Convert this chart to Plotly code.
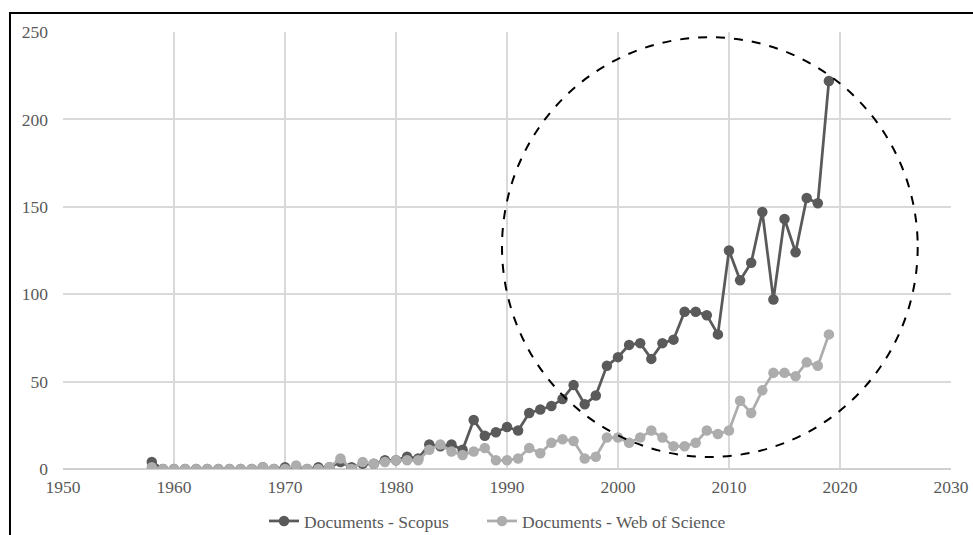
import plotly.graph_objects as go

years = list(range(1958, 2020))

scopus = [4, 0, 0, 0, 0, 0, 0, 0, 0, 0, 1, 0,          # 1958-1969
          1, 0, 0, 1, 1, 4, 1, 3, 3, 5,                 # 1970-1979
          5, 7, 6, 14, 13, 14, 11, 28, 19, 21,          # 1980-1989
          24, 22, 32, 34, 36, 40, 48, 37, 42, 59,       # 1990-1999
          64, 71, 72, 63, 72, 74, 90, 90, 88, 77,       # 2000-2009
          125, 108, 118, 147, 97, 143, 124, 155, 152, 222]  # 2010-2019

wos = [1, 0, 0, 0, 0, 0, 0, 0, 0, 0, 1, 0,             # 1958-1969
       0, 2, 0, 0, 1, 6, 0, 4, 3, 4,                    # 1970-1979
       5, 5, 5, 11, 14, 10, 8, 10, 12, 5,               # 1980-1989
       5, 6, 12, 9, 15, 17, 16, 6, 7, 18,               # 1990-1999
       18, 15, 18, 22, 18, 13, 13, 15, 22, 20,          # 2000-2009
       22, 39, 32, 45, 55, 55, 53, 61, 59, 77]          # 2010-2019

series_names = ["Documents - Scopus", "Documents - Web of Science"]
series_colors = ["#5a5a5a", "#adadad"]
legend_ids = ["legend", "legend2"]

x_ticks = [1950, 1960, 1970, 1980, 1990, 2000, 2010, 2020, 2030]
y_ticks = [0, 50, 100, 150, 200, 250]

FONT = "'Liberation Serif', 'Times New Roman', serif"
TXT = "#595959"
FS = 17.5

fig = go.Figure()
for name, vals, col, lg in zip(series_names, [scopus, wos], series_colors, legend_ids):
    fig.add_trace(go.Scatter(
        x=years, y=vals, name=name, mode="lines+markers",
        line=dict(color=col, width=2.75),
        marker=dict(color=col, size=10.5),
        legend=lg,
    ))

# dashed highlight circle
fig.add_shape(type="circle", xref="x", yref="y",
              x0=1989.55, x1=2027.0, y0=6.9, y1=247.0,
              line=dict(color="black", width=2, dash="dash"))
# outer frame
fig.add_shape(type="rect", xref="paper", yref="paper",
              x0=-0.0597, x1=1.03, y0=-0.17, y1=1.0435,
              line=dict(color="black", width=2), layer="above")

legend_common = dict(orientation="h", xref="container", xanchor="left",
                     yref="container", y=0.026, yanchor="middle",
                     font=dict(family=FONT, size=FS, color=TXT),
                     itemwidth=30, bgcolor="rgba(0,0,0,0)")

fig.update_layout(
    width=973, height=535,
    margin=dict(l=63, r=22, t=32, b=66, autoexpand=False),
    paper_bgcolor="white", plot_bgcolor="white",
    font=dict(family=FONT, size=FS, color=TXT),
    showlegend=True,
    legend=dict(x=264 / 973, **legend_common),
    legend2=dict(x=482 / 973, **legend_common),
    xaxis=dict(range=[1950, 2030], tickvals=x_ticks,
               showgrid=True, gridcolor="#d9d9d9", gridwidth=1.5,
               zeroline=False, showline=False, ticks="", automargin=False,
               tickfont=dict(family=FONT, size=FS, color=TXT),
               ticklabelstandoff=5),
    yaxis=dict(range=[0, 250], tickvals=y_ticks,
               showgrid=True, gridcolor="#d9d9d9", gridwidth=1.5,
               zeroline=True, zerolinecolor="#d0d0d0", zerolinewidth=1.5,
               showline=False, ticks="", automargin=False,
               tickfont=dict(family=FONT, size=FS, color=TXT),
               ticklabelstandoff=14),
)

fig.write_html("out.html", config={"displayModeBar": False},
               post_script="document.body.style.margin='0';")
